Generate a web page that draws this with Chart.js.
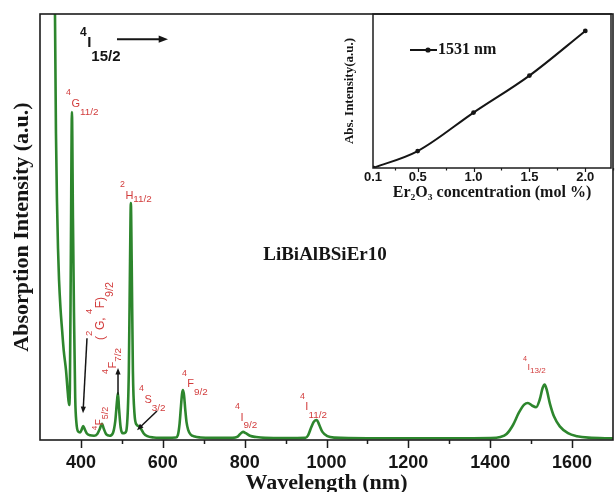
<!DOCTYPE html>
<html>
<head>
<meta charset="utf-8">
<script src="https://cdn.jsdelivr.net/npm/chart.js@4.4.1/dist/chart.umd.min.js"></script>
<style>
  html, body { margin: 0; padding: 0; background: #fff; }
  #wrap { position: relative; width: 615px; height: 492px; }
  #main { position: absolute; left: 0; top: 0; }
  #inset { position: absolute; left: 335px; top: 0; }
</style>
</head>
<body>
<div id="wrap">
  <canvas id="main" width="615" height="492"></canvas>
  <canvas id="inset" width="280" height="205"></canvas>
</div>
<script>
// Absorption spectrum of LiBiAlBSiEr10 glass: wavelength (nm) and intensity (a.u.)
const wavelengthNm = [
  330, 334, 336.6, 339, 341.5, 344, 346.5, 350, 354, 358, 363.5, 368, 371, 373, 375.5, 378, 380.5, 383, 386, 389, 393,
  398, 402, 405.5, 409, 414, 422, 432, 440, 446, 451.5, 456, 462, 470, 478, 484, 488, 490.5, 493, 497, 502,
  508, 513, 517, 520, 522, 524, 527, 531, 536, 542, 547, 553, 562, 578, 610,
  632, 637, 641, 644.5, 647, 649.5, 652, 655, 658, 662, 668, 678, 692, 720,
  770, 783, 790, 796, 803, 813, 828, 850, 900,
  948, 955, 962, 969, 976.5, 982, 990, 1002, 1020, 1100, 1200, 1300,
  1400, 1425, 1440, 1455, 1470, 1483, 1492, 1502, 1512, 1521, 1528, 1533, 1538, 1546, 1556, 1570, 1590, 1612, 1640, 1700
];
const absorption = [
  420, 150, 100, 72, 56, 45, 37.6, 31, 25.8, 21, 16.4, 11, 8.2, 12, 45, 77, 52, 30, 10, 4, 2,
  1.8, 2.5, 3.3, 2.6, 1.6, 1.1, 1.0, 1.4, 2.6, 3.8, 2.6, 1.3, 1.0, 1.6, 4.5, 9, 11, 7.5, 3, 1.6,
  1.7, 4, 16, 42, 55.6, 42, 16, 6, 3.6, 3.2, 2.6, 1.6, 0.9, 0.6, 0.5,
  0.6, 1.2, 3.8, 8, 10.8, 11.7, 10.4, 7, 4.2, 2.4, 1.3, 0.8, 0.6, 0.5,
  0.5, 0.8, 1.5, 1.9, 1.6, 1.0, 0.7, 0.5, 0.45,
  0.5, 1.1, 2.8, 4.3, 4.7, 3.6, 1.9, 0.9, 0.55, 0.4, 0.4, 0.4,
  0.45, 0.7, 1.4, 3.4, 6.4, 8.3, 8.7, 8.1, 7.7, 9.5, 12.2, 13, 11.8, 8.5, 5.5, 3.2, 1.6, 0.9, 0.55, 0.4
];
const wavelengthTicks = [400, 600, 800, 1000, 1200, 1400, 1600];
const wavelengthMinorTicks = [500, 700, 900, 1100, 1300, 1500];

// Inset: 1531 nm band intensity versus Er2O3 content
const erConcentration = [0.1, 0.5, 1.0, 1.5, 2.0];
const intensity1531 = [0, 11, 36, 60, 89];
const concentrationTicks = [0.1, 0.5, 1.0, 1.5, 2.0];
const concentrationMinorTicks = [0.3, 0.75, 1.25, 1.75, 2.25];

const SANS = "'Liberation Sans', Arial, sans-serif";
const SERIF = "'Liberation Serif', 'Times New Roman', serif";
const RED = '#d23c3c';
const INK = '#151515';

Chart.defaults.font.family = SANS;
Chart.defaults.color = INK;

// energy-level label: parts are [text, 'sup'|'sub'|undefined]
function drawTerm(ctx, x, y, parts, o) {
  ctx.save();
  ctx.translate(x, y);
  if (o.rot) ctx.rotate(o.rot);
  ctx.fillStyle = o.color;
  ctx.textBaseline = 'middle';
  ctx.textAlign = 'left';
  let cx = 0;
  for (const p of parts) {
    const k = p[1] || 'n';
    const sz = k === 'n' ? o.size : (k === 'sup' ? o.size * 0.8 : o.size * (o.subScale || 0.9));
    const dy = k === 'n' ? 0 : (k === 'sup' ? -o.size * (o.supDy || 1.0) : o.size * (o.subDy || 0.72));
    ctx.font = (o.bold ? 'bold ' : '') + sz + 'px ' + (o.family || SANS);
    ctx.fillText(p[0], cx, dy);
    cx += ctx.measureText(p[0]).width + (k === 'sup' ? 0.5 : 0);
  }
  ctx.restore();
}

function drawArrow(ctx, x1, y1, x2, y2, w, head) {
  const a = Math.atan2(y2 - y1, x2 - x1);
  ctx.save();
  ctx.strokeStyle = INK;
  ctx.fillStyle = INK;
  ctx.lineWidth = w;
  ctx.beginPath();
  ctx.moveTo(x1, y1);
  ctx.lineTo(x2 - Math.cos(a) * head * 0.8, y2 - Math.sin(a) * head * 0.8);
  ctx.stroke();
  ctx.beginPath();
  ctx.moveTo(x2, y2);
  ctx.lineTo(x2 - Math.cos(a - 0.38) * head, y2 - Math.sin(a - 0.38) * head);
  ctx.lineTo(x2 - Math.cos(a + 0.38) * head, y2 - Math.sin(a + 0.38) * head);
  ctx.closePath();
  ctx.fill();
  ctx.restore();
}

// level labels placed in data units (nm, a.u.)
const levelLabels = [
  { at: [397.7, 93.2], parts: [['4', 'sup'], ['I'], ['15/2', 'sub']], size: 15, color: INK, bold: true, supDy: 0.7, subDy: 0.95, subScale: 1.0 },
  { at: [363.5, 78.9], parts: [['4', 'sup'], ['G'], ['11/2', 'sub']], size: 11, color: RED },
  { at: [495.5, 57.3], parts: [['2', 'sup'], ['H'], ['11/2', 'sub']], size: 11, color: RED, subDy: 0.35 },
  { at: [646.9, 13.1], parts: [['4', 'sup'], ['F'], ['9/2', 'sub']], size: 11, color: RED },
  { at: [776.4, 5.2], parts: [['4', 'sup'], ['I'], ['9/2', 'sub']], size: 11, color: RED },
  { at: [935.2, 7.7], parts: [['4', 'sup'], ['I'], ['11/2', 'sub']], size: 11, color: RED },
  { at: [1480, 16.9], parts: [['4', 'sup'], ['I'], ['13/2', 'sub']], size: 9, color: RED, subDy: 0.3 },
  { at: [541.9, 9.4], parts: [['4', 'sup'], ['S'], ['3/2', 'sub']], size: 11, color: RED },
  { at: [449, 23.5], parts: [['('], ['2', 'sup'], ['G, '], ['4', 'sup'], ['F)'], ['9/2', 'sub']], size: 12, color: RED, rot: -Math.PI / 2 },
  { at: [478.4, 15.5], parts: [['4', 'sup'], ['F'], ['7/2', 'sub']], size: 11, color: RED, rot: -Math.PI / 2, supDy: 0.7, subDy: 0.45 },
  { at: [446.6, 2.3], parts: [['4', 'sup'], ['F'], ['5/2', 'sub']], size: 10, color: RED, rot: -Math.PI / 2, supDy: 0.5, subDy: 0.6 }
];
const levelArrows = [
  { from: [488.1, 94.1], to: [612.7, 94.1], w: 2, head: 10 },
  { from: [414.8, 23.9], to: [405.1, 6.3], w: 1.5, head: 7 },
  { from: [490.6, 10.6], to: [490.6, 16.9], w: 1.5, head: 7 },
  { from: [585.9, 6.8], to: [537, 2.3], w: 1.5, head: 7 }
];
const sampleName = { at: [996.3, 43.4], text: 'LiBiAlBSiEr10' };

const spectrumDecor = {
  id: 'spectrumDecor',
  afterDraw(chart) {
    const { ctx, chartArea: ca, scales: { x, y } } = chart;
    ctx.save();
    // frame
    ctx.strokeStyle = '#1c1c1c';
    ctx.lineWidth = 1.6;
    ctx.strokeRect(ca.left, ca.top, ca.right - ca.left, ca.bottom - ca.top);
    // tick marks below the wavelength axis
    ctx.lineWidth = 1.5;
    ctx.beginPath();
    for (const v of wavelengthTicks) {
      const px = Math.round(x.getPixelForValue(v)) + 0.5;
      ctx.moveTo(px, ca.bottom); ctx.lineTo(px, ca.bottom + 8);
    }
    for (const v of wavelengthMinorTicks) {
      const px = Math.round(x.getPixelForValue(v)) + 0.5;
      ctx.moveTo(px, ca.bottom); ctx.lineTo(px, ca.bottom + 4);
    }
    ctx.stroke();
    ctx.restore();

    for (const l of levelLabels) {
      drawTerm(ctx, x.getPixelForValue(l.at[0]), y.getPixelForValue(l.at[1]), l.parts, l);
    }
    for (const a of levelArrows) {
      drawArrow(ctx, x.getPixelForValue(a.from[0]), y.getPixelForValue(a.from[1]),
        x.getPixelForValue(a.to[0]), y.getPixelForValue(a.to[1]), a.w, a.head);
    }
    ctx.save();
    ctx.fillStyle = INK;
    ctx.font = 'bold 19px ' + SERIF;
    ctx.textAlign = 'center';
    ctx.textBaseline = 'middle';
    ctx.fillText(sampleName.text, x.getPixelForValue(sampleName.at[0]), y.getPixelForValue(sampleName.at[1]));
    ctx.restore();
  }
};

new Chart(document.getElementById('main'), {
  type: 'line',
  data: {
    datasets: [{
      data: wavelengthNm.map((w, i) => ({ x: w, y: absorption[i] })),
      borderColor: '#2d862d',
      borderWidth: 2.6,
      pointRadius: 0,
      fill: false,
      cubicInterpolationMode: 'monotone'
    }]
  },
  options: {
    responsive: false,
    animation: false,
    layout: { padding: { top: 14, right: 2, left: 0, bottom: 0 } },
    plugins: { legend: { display: false }, tooltip: { enabled: false } },
    scales: {
      x: {
        type: 'linear',
        min: 300, max: 1700,
        afterBuildTicks: s => { s.ticks = wavelengthTicks.map(v => ({ value: v })); },
        afterFit: s => { s.height = 52; },
        grid: { display: false, drawTicks: false },
        border: { display: false },
        ticks: { font: { size: 18, weight: 'bold' }, color: INK, padding: 12, maxRotation: 0, autoSkip: false,
          callback: v => String(v) },
        title: { display: true, text: 'Wavelength (nm)', color: INK,
          font: { family: SERIF, size: 22, weight: 'bold', lineHeight: 0.8 }, padding: 0 }
      },
      y: {
        min: 0, max: 100,
        afterFit: s => { s.width = 40; },
        grid: { display: false, drawTicks: false },
        border: { display: false },
        ticks: { display: false },
        title: { display: true, text: 'Absorption Intensity (a.u.)', color: INK,
          font: { family: SERIF, size: 22, weight: 'bold', lineHeight: 1 }, padding: { top: 11, bottom: 0 } }
      }
    }
  },
  plugins: [spectrumDecor]
});

// inset
const insetDecor = {
  id: 'insetDecor',
  afterDraw(chart) {
    const { ctx, chartArea: ca, scales: { x } } = chart;
    ctx.save();
    ctx.strokeStyle = '#1c1c1c';
    ctx.lineWidth = 1.5;
    ctx.strokeRect(ca.left, ca.top, ca.right - ca.left, ca.bottom - ca.top);
    ctx.lineWidth = 1.2;
    ctx.beginPath();
    for (const v of concentrationTicks.slice(1)) {
      const px = Math.round(x.getPixelForValue(v)) + 0.5;
      ctx.moveTo(px, ca.bottom); ctx.lineTo(px, ca.bottom + 4);
    }
    for (const v of concentrationMinorTicks) {
      const px = Math.round(x.getPixelForValue(v)) + 0.5;
      ctx.moveTo(px, ca.bottom); ctx.lineTo(px, ca.bottom + 2.5);
    }
    ctx.stroke();
    // legend entry
    const lx = ca.left + 37, ly = ca.top + 36;
    ctx.strokeStyle = INK;
    ctx.lineWidth = 2;
    ctx.beginPath(); ctx.moveTo(lx, ly); ctx.lineTo(lx + 27, ly); ctx.stroke();
    ctx.fillStyle = INK;
    ctx.beginPath(); ctx.arc(lx + 18, ly, 2.6, 0, Math.PI * 2); ctx.fill();
    ctx.font = 'bold 16px ' + SERIF;
    ctx.textBaseline = 'middle';
    ctx.textAlign = 'left';
    ctx.fillText('1531 nm', lx + 28, ly);
    ctx.restore();
  }
};

new Chart(document.getElementById('inset'), {
  type: 'line',
  data: {
    datasets: [{
      data: erConcentration.map((c, i) => ({ x: c, y: intensity1531[i] })),
      borderColor: INK,
      borderWidth: 2,
      pointRadius: 2.4,
      pointBackgroundColor: INK,
      pointBorderWidth: 0,
      fill: false,
      cubicInterpolationMode: 'monotone'
    }]
  },
  options: {
    responsive: false,
    animation: false,
    layout: { padding: { top: 14, right: 2, left: 0, bottom: 0 } },
    plugins: { legend: { display: false }, tooltip: { enabled: false } },
    scales: {
      x: {
        type: 'linear',
        min: 0.1, max: 2.23,
        afterBuildTicks: s => { s.ticks = concentrationTicks.map(v => ({ value: v })); },
        afterFit: s => { s.height = 37; },
        grid: { display: false, drawTicks: false },
        border: { display: false },
        ticks: { font: { size: 13, weight: 'bold' }, color: INK, padding: 2, maxRotation: 0, autoSkip: false,
          callback: v => v.toFixed(1) },
        title: { display: true, text: 'Er\u2082O\u2083 concentration (mol %)', color: INK,
          font: { family: SERIF, size: 16, weight: 'bold', lineHeight: 1 }, padding: { top: 0, bottom: 4 } }
      },
      y: {
        min: 0, max: 100,
        afterFit: s => { s.width = 38; },
        grid: { display: false, drawTicks: false },
        border: { display: false },
        ticks: { display: false },
        title: { display: true, text: 'Abs. Intensity(a.u.)', color: INK,
          font: { family: SERIF, size: 13, weight: 'bold', lineHeight: 1 }, padding: { top: 8.5, bottom: 0 } }
      }
    }
  },
  plugins: [insetDecor]
});
</script>
</body>
</html>
